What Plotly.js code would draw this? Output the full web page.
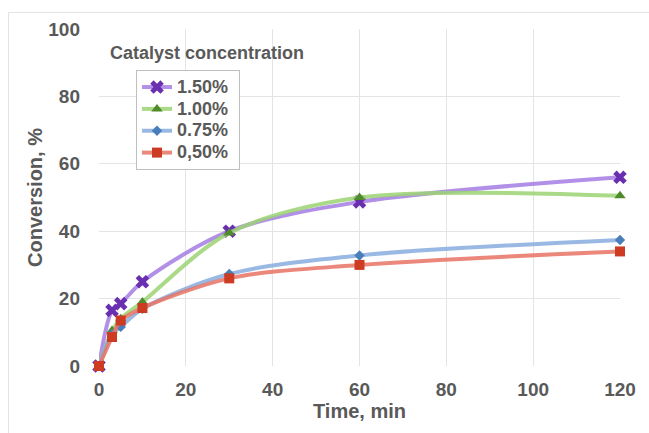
<!DOCTYPE html>
<html><head><meta charset="utf-8">
<script src="https://cdn.plot.ly/plotly-3.0.1.min.js"></script>
<style>
html,body{margin:0;padding:0;background:#fff;}
#frame{position:absolute;left:8px;top:12px;width:660px;height:440px;border:1px solid #e3e3e3;}
#chart{position:absolute;left:0;top:0;width:649px;height:433px;}
</style></head>
<body><div id="frame"></div><div id="chart"></div>
<script>
const time = [0, 3, 5, 10, 30, 60, 120];
const seriesNames = ["1.50%", "1.00%", "0.75%", "0,50%"];
const conv150 = [0, 16.5, 18.5, 25, 40, 48.7, 56];
const conv100 = [0, 10.5, 14, 19, 39.5, 50, 50.5];
const conv075 = [0, 9.5, 11.6, 17, 27.3, 32.8, 37.4];
const conv050 = [0, 8.6, 13.5, 17.2, 26, 30, 34];
const xTicks = [0, 20, 40, 60, 80, 100, 120];
const yTicks = [0, 20, 40, 60, 80, 100];

const lineColors = ["rgba(165,125,228,0.85)", "rgba(155,212,115,0.85)", "rgba(135,172,222,0.85)", "rgba(232,115,100,0.85)"];
const markColors = ["#6a2fb0", "#4f8a2b", "#4a7ebb", "#cc3b22"];
const symbols = ["x", "triangle-up", "diamond", "square"];
const sizes = [12, 10, 8, 10];
const data = [conv150, conv100, conv075, conv050];

const traces = data.map((ys, i) => ({
  x: time, y: ys, name: '<span style="font-size:18px">' + seriesNames[i] + '&nbsp;</span>',
  type: "scatter", mode: "lines+markers", cliponaxis: false,
  line: {shape: "spline", smoothing: 0.9, width: 4, color: lineColors[i]},
  marker: {symbol: symbols[i], size: sizes[i], color: markColors[i], line: {width: 0}}
}));

const font = {family: "Liberation Sans, Arial, sans-serif", color: "#595959"};
const layout = {
  width: 649, height: 433,
  margin: {l: 99, r: 29, t: 29, b: 67},
  paper_bgcolor: "rgba(0,0,0,0)", plot_bgcolor: "rgba(0,0,0,0)",
  font: font,
  showlegend: true,
  legend: {x: 0.071, y: 0.878, xanchor: "left", yanchor: "top",
    bordercolor: "#bfbfbf", borderwidth: 1, bgcolor: "#fff",
    font: {family: font.family, size: 14.5, color: "#595959", weight: "bold"},
    tracegroupgap: 0},
  xaxis: {range: [0, 120], tickvals: xTicks, ticktext: xTicks.map(String),
    showgrid: true, gridcolor: "#e4e4e4", zeroline: false, showline: false, ticks: "",
    ticklabelstandoff: 10,
    tickfont: {size: 19, weight: "bold", color: "#595959"},
    title: {text: "<b>Time, min</b>", font: {size: 20, color: "#595959"}, standoff: 3}},
  yaxis: {range: [0, 100], tickvals: yTicks, ticktext: yTicks.map(String),
    showgrid: true, gridcolor: "#e4e4e4", zeroline: false, showline: false, ticks: "",
    ticklabelstandoff: 18,
    tickfont: {size: 19, weight: "bold", color: "#595959"},
    title: {text: "<b>Conversion, %</b>", font: {size: 20, color: "#595959"}, standoff: 0}},
  annotations: [{text: "<b>Catalyst concentration</b>", xref: "paper", yref: "paper",
    x: 0.017, y: 0.93, xanchor: "left", yanchor: "middle", showarrow: false,
    font: {size: 18, color: "#595959"}}]
};
Plotly.newPlot("chart", traces, layout, {displayModeBar: false, staticPlot: true});
</script></body></html>
